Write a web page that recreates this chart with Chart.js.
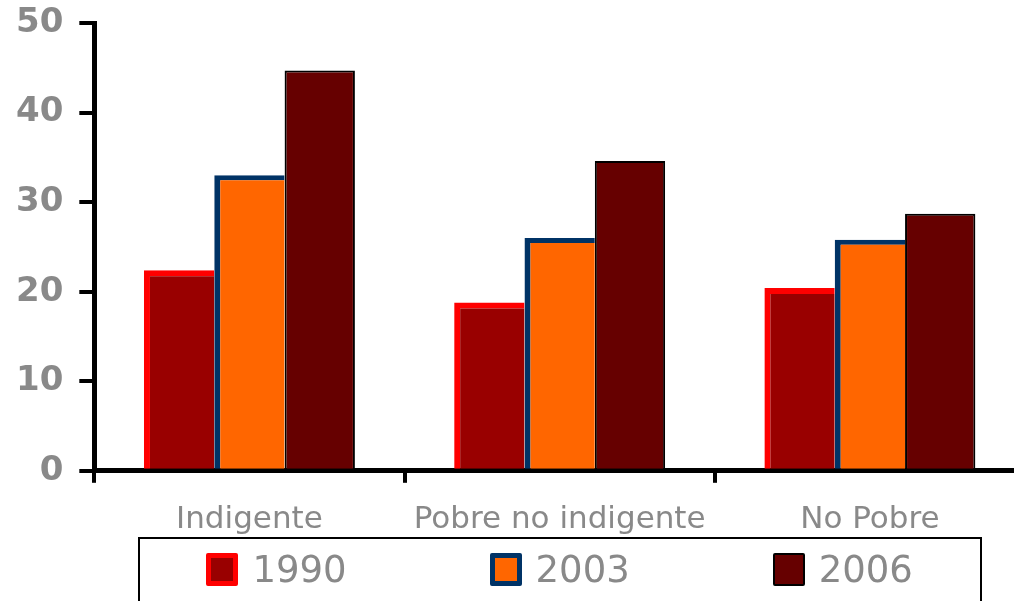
<!DOCTYPE html>
<html>
<head>
<meta charset="utf-8">
<script src="https://cdn.jsdelivr.net/npm/chart.js@4"></script>
<style>
  html, body { margin: 0; padding: 0; overflow: hidden; background: #fff; }
  #wrap { position: relative; width: 1026px; height: 601px; }
  #legend {
    position: absolute;
    top: 537px;
    width: 840px;
    height: 90px;
    border: 2px solid #000;
    display: flex;
    justify-content: center;
    align-items: flex-start;
    gap: 143px;
    font-family: 'DejaVu Sans', sans-serif;
    font-size: 37px;
    color: #898989;
  }
  #legend .item { display: flex; align-items: center; margin-top: 9px; }
  #legend .box { width: 32px; height: 33px; box-sizing: border-box; border-radius: 2px; margin-right: 14px; }
</style>
</head>
<body>
<div id="wrap">
  <canvas id="myChart" width="1026" height="558"></canvas>
  <div id="legend"></div>
</div>
<script>
// Daten
const categories = ['Indigente', 'Pobre no indigente', 'No Pobre'];
const values_1990 = [22.4, 18.8, 20.4];
const values_2003 = [33.0, 26.0, 25.8];
const values_2006 = [44.7, 34.6, 28.7];
const yTicks = [0, 10, 20, 30, 40, 50];

const grey = '#898989';

var ctx = document.getElementById('myChart').getContext('2d');
var myChart = new Chart(ctx, {
    type: 'bar',
    data: {
        labels: categories,
        datasets: [
            {
                label: '1990',
                data: values_1990,
                backgroundColor: '#990000',
                borderColor: '#FF0000',
                borderWidth: {left: 6, top: 6, right: 0, bottom: 0},
                legendBorder: 5,
            },
            {
                label: '2003',
                data: values_2003,
                backgroundColor: '#FF6600',
                borderColor: '#003366',
                borderWidth: {left: 6, top: 5, right: 0, bottom: 0},
                legendBorder: 5,
            },
            {
                label: '2006',
                data: values_2006,
                backgroundColor: '#660000',
                borderColor: '#000000',
                borderWidth: {left: 2, top: 2, right: 2, bottom: 0},
                legendBorder: 2,
            },
        ]
    },
    options: {
        responsive: false,
        animation: false,
        layout: { padding: { top: 0, right: 1, left: 0, bottom: 0 } },
        datasets: {
            bar: { categoryPercentage: 0.68, barPercentage: 1.0, borderSkipped: false }
        },
        plugins: {
            tooltip: { enabled: false },
            legend: { display: false },
        },
        scales: {
            x: {
                grid: {
                    offset: true,
                    drawOnChartArea: false,
                    color: '#000',
                    lineWidth: 4,
                    tickLength: 12,
                },
                border: { color: '#000', width: 5 },
                ticks: {
                    color: grey,
                    padding: 19,
                    maxRotation: 0,
                    font: { family: 'DejaVu Sans', size: 31 },
                },
            },
            y: {
                min: 0,
                max: 50,
                afterBuildTicks(axis) {
                    axis.ticks = yTicks.map(v => ({ value: v }));
                },
                afterFit(axis) {
                    // oberer Rand nur halbe Schrifthöhe
                    axis.paddingTop = 23;
                },
                grid: {
                    drawOnChartArea: false,
                    color: '#000',
                    lineWidth: 4,
                    tickLength: 15,
                },
                border: { color: '#000', width: 5 },
                ticks: {
                    autoSkip: false,
                    color: grey,
                    padding: 16,
                    font: { family: 'DejaVu Sans', weight: 'bold', size: 34 },
                },
            }
        }
    }
});

// HTML-Legende aus den Datasets bauen
var legendEl = document.getElementById('legend');
myChart.data.datasets.forEach(function(ds) {
    var item = document.createElement('div');
    item.className = 'item';
    var box = document.createElement('span');
    box.className = 'box';
    box.style.background = ds.backgroundColor;
    box.style.border = ds.legendBorder + 'px solid ' + ds.borderColor;
    var txt = document.createElement('span');
    txt.textContent = ds.label;
    item.appendChild(box);
    item.appendChild(txt);
    legendEl.appendChild(item);
});
// Legende mittig unter der Zeichenfläche
var area = myChart.chartArea;
legendEl.style.left = ((area.left + area.right) / 2 - 422) + 'px';
</script>
</body>
</html>
